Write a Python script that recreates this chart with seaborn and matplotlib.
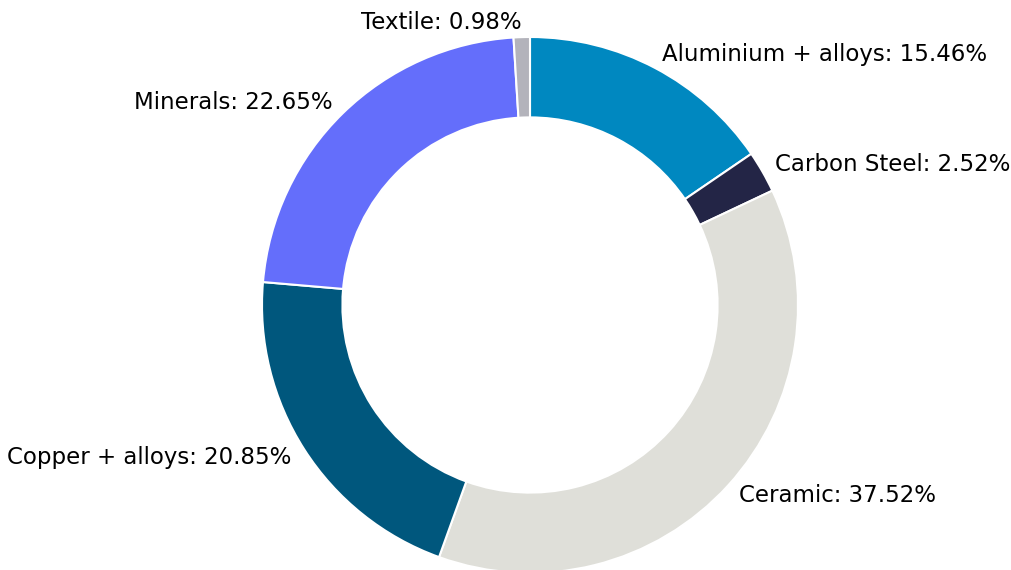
import matplotlib
matplotlib.use("Agg")
import matplotlib.pyplot as plt
import seaborn as sns

# --- Données ---
materials = ["Aluminium + alloys", "Carbon Steel", "Ceramic", "Copper + alloys", "Minerals", "Textile"]
shares = [15.46, 2.52, 37.52, 20.85, 22.65, 0.98]
colors = ["#0088c0", "#232546", "#dfdfd9", "#00577d", "#646efb", "#b3b3bb"]

sns.set_theme(style="white")
plt.rcParams["font.family"] = ["DejaVu Sans"]

labels = [f"{m}: {v:.2f}%" for m, v in zip(materials, shares)]

fig = plt.figure(figsize=(10.11, 5.70), dpi=100)
ax = fig.add_axes([262 / 1011, -3 / 570, 536 / 1011, 536 / 570])

ax.pie(
    shares,
    labels=labels,
    colors=colors,
    startangle=90,
    counterclock=False,
    labeldistance=1.055,
    wedgeprops=dict(width=0.3, edgecolor="white", linewidth=1.5),
    textprops=dict(fontsize=16.5, color="black"),
)
ax.set_xlim(-1, 1)
ax.set_ylim(-1, 1)
ax.set_aspect("equal")
ax.axis("off")

fig.savefig("out.png", dpi=100)
